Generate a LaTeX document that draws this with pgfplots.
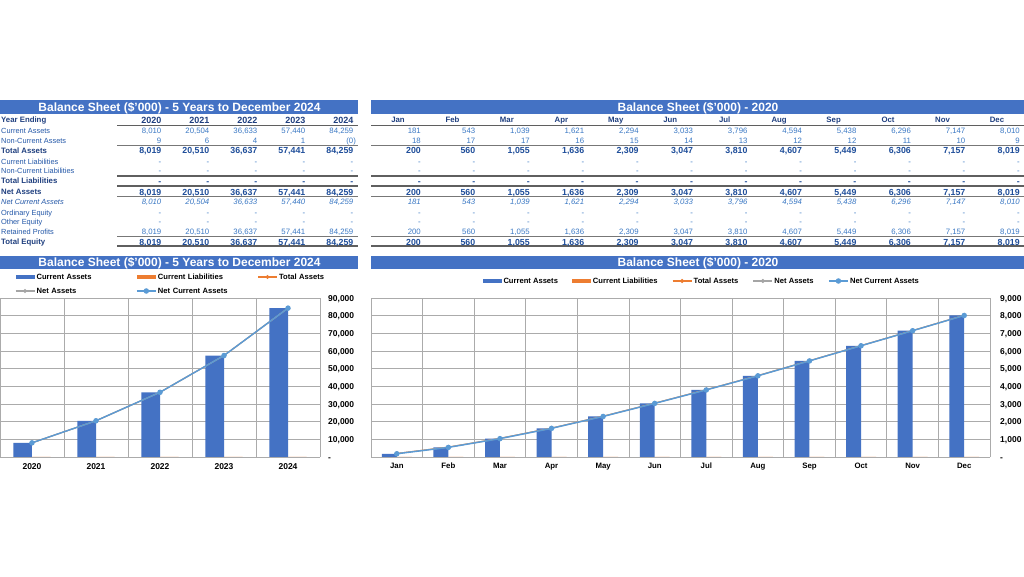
\documentclass[border=0pt]{standalone}
\usepackage{pgfplots}
\pgfplotsset{compat=1.18}
\usepackage{pgfplotstable}
\usepackage{fontspec}
\setmainfont{Liberation Sans}

\definecolor{hdr}{HTML}{4472C4}
\definecolor{barblue}{HTML}{4472C4}
\definecolor{orng}{HTML}{ED7D31}
\definecolor{gry}{HTML}{A5A5A5}
\definecolor{lblue}{HTML}{5B9BD5}
\definecolor{labc}{HTML}{2458A8}
\definecolor{boldc}{HTML}{1F3F7F}
\definecolor{valc}{HTML}{3A78C4}
\definecolor{bvalc}{HTML}{1F4E9A}
\definecolor{gridc}{HTML}{ABABAB}
\definecolor{rulec}{HTML}{5F5F5F}

\newcommand\fs[1]{\fontsize{#1}{#1}\selectfont}
\newcommand\LR[3]{\foreach \v [count=\i from 0] in {#3}{\node[#2,anchor=east] at ({161.5+48*\i},#1) {\v};}}
\newcommand\RR[3]{\foreach \v [count=\i from 0] in {#3}{\node[#2,anchor=east] at ({421+54.45*\i},#1) {\v};}}

\pgfplotsset{
  linelegend/.style={legend image code/.code={\draw[mark repeat=2,mark phase=2,##1] plot coordinates {(0pt,0pt) (9.5pt,0pt) (19pt,0pt)};}},
  barlegend/.style={legend image code/.code={\fill[#1] (0pt,-2pt) rectangle (19pt,2pt);}},
  dash/.style={
    scale only axis, height=159pt, ymin=0,
    axis line style={draw=none}, major tick length=0pt, minor tick length=0pt,
    xminorgrids=true, ymajorgrids=true,
    minor grid style={gridc, line width=0.8pt}, major grid style={gridc, line width=0.8pt},
    yticklabel pos=right, scaled y ticks=false,
    yticklabel style={font=\bfseries\fs{8.5}, text height=6.1pt, text depth=0pt, inner sep=0pt, anchor=west},
    xticklabel style={text depth=0pt, inner sep=0pt, anchor=north, yshift=-6pt},
  }
}

\pgfplotstableread{
x ca cl ta na nca
0 8010 0 8019 8019 8010
1 20504 0 20510 20510 20504
2 36633 0 36637 36637 36633
3 57440 0 57441 57441 57440
4 84259 0 84259 84259 84259
}\yrdata

\pgfplotstableread{
x ca cl ta na nca
0 181 0 200 200 181
1 543 0 560 560 543
2 1039 0 1055 1055 1039
3 1621 0 1636 1636 1621
4 2294 0 2309 2309 2294
5 3033 0 3047 3047 3033
6 3796 0 3810 3810 3796
7 4594 0 4607 4607 4594
8 5438 0 5449 5449 5438
9 6296 0 6306 6306 6296
10 7147 0 7157 7157 7147
11 8010 0 8019 8019 8010
}\modata

\begin{document}
\begin{tikzpicture}
\begin{scope}[x=1pt,y=-1pt,yshift=577pt,
  title/.style={font=\bfseries\fs{12}, text=white, text height=8.6pt, text depth=0pt, inner sep=0pt},
  lab/.style={font=\fs{7.4}, text=labc, text height=5.3pt, text depth=0pt, inner sep=0pt, anchor=west},
  blab/.style={font=\bfseries\fs{7.8}, text=boldc, text height=5.6pt, text depth=0pt, inner sep=0pt, anchor=west},
  ilab/.style={font=\itshape\fs{7.4}, text=labc, text height=5.3pt, text depth=0pt, inner sep=0pt, anchor=west},
  val/.style={font=\fs{7.8}, text=valc, text height=5.6pt, text depth=0pt, inner sep=0pt},
  bval/.style={font=\bfseries\fs{8.8}, text=bvalc, text height=6.3pt, text depth=0pt, inner sep=0pt},
  ival/.style={font=\itshape\fs{7.8}, text=valc, text height=5.6pt, text depth=0pt, inner sep=0pt},
  hyr/.style={font=\bfseries\fs{9}, text=boldc, text height=6.4pt, text depth=0pt, inner sep=0pt},
  hmo/.style={font=\bfseries\fs{7.8}, text=boldc, text height=5.6pt, text depth=0pt, inner sep=0pt, anchor=center},
  thick rule/.style={rulec, line width=1.8pt},
  thin rule/.style={rulec!85, line width=0.9pt}]
 \fill[white] (0,0) rectangle (1024,577);
 \fill[hdr] (0,100) rectangle (358,114);
 \fill[hdr] (371,100) rectangle (1024,114);
 \fill[hdr] (0,256) rectangle (358,269);
 \fill[hdr] (371,256) rectangle (1024,269);
 \node[title] at (179.5,107) {Balance Sheet (\$\char"27 000) - 5 Years to December 2024};
 \node[title] at (698,107) {Balance Sheet (\$\char"27 000) - 2020};
 \node[title] at (179.5,262.5) {Balance Sheet (\$\char"27 000) - 5 Years to December 2024};
 \node[title] at (698,262.5) {Balance Sheet (\$\char"27 000) - 2020};
 % rules
 \foreach \yy in {125.5,175.7,185.7,246.3} {\draw[thick rule] (117,\yy) -- (358,\yy); \draw[thick rule] (371,\yy) -- (1024,\yy);}
 \foreach \yy in {145.7,196.7,236.3} {\draw[thin rule] (117,\yy) -- (358,\yy); \draw[thin rule] (371,\yy) -- (1024,\yy);}
 % header row
 \node[blab] at (1,120) {Year Ending};
 \LR{120}{hyr}{2020,2021,2022,2023,2024}
 \foreach \m [count=\i from 0] in {Jan,Feb,Mar,Apr,May,Jun,Jul,Aug,Sep,Oct,Nov,Dec} {\node[hmo] at ({398+54.45*\i},120) {\m};}
 % Current Assets
 \node[lab] at (1,131) {Current Assets};
 \LR{131}{val}{{8,010},{20,504},{36,633},{57,440},{84,259}}
 \RR{131}{val}{181,543,{1,039},{1,621},{2,294},{3,033},{3,796},{4,594},{5,438},{6,296},{7,147},{8,010}}
 % Non-Current Assets
 \node[lab] at (1,141) {Non-Current Assets};
 \LR{141}{val}{9,6,4,1,{(0\rlap{)}}}
 \RR{141}{val}{18,17,17,16,15,14,13,12,12,11,10,9}
 % Total Assets
 \node[blab] at (1,150.5) {Total Assets};
 \LR{150.5}{bval}{{8,019},{20,510},{36,637},{57,441},{84,259}}
 \RR{150.5}{bval}{200,560,{1,055},{1,636},{2,309},{3,047},{3,810},{4,607},{5,449},{6,306},{7,157},{8,019}}
 % Current Liabilities
 \node[lab] at (1,162) {Current Liabilities};
 \LR{162}{val}{-,-,-,-,-}
 \RR{162}{val}{-,-,-,-,-,-,-,-,-,-,-,-}
 \node[lab] at (1,171) {Non-Current Liabilities};
 \LR{171}{val}{-,-,-,-,-}
 \RR{171}{val}{-,-,-,-,-,-,-,-,-,-,-,-}
 \node[blab] at (1,181) {Total Liabilities};
 \LR{181}{bval}{-,-,-,-,-}
 \RR{181}{bval}{-,-,-,-,-,-,-,-,-,-,-,-}
 % Net Assets
 \node[blab] at (1,192) {Net Assets};
 \LR{192}{bval}{{8,019},{20,510},{36,637},{57,441},{84,259}}
 \RR{192}{bval}{200,560,{1,055},{1,636},{2,309},{3,047},{3,810},{4,607},{5,449},{6,306},{7,157},{8,019}}
 % Net Current Assets
 \node[ilab] at (1,202) {Net Current Assets};
 \LR{202}{ival}{{8,010},{20,504},{36,633},{57,440},{84,259}}
 \RR{202}{ival}{181,543,{1,039},{1,621},{2,294},{3,033},{3,796},{4,594},{5,438},{6,296},{7,147},{8,010}}
 % Equity
 \node[lab] at (1,213) {Ordinary Equity};
 \LR{213}{val}{-,-,-,-,-}
 \RR{213}{val}{-,-,-,-,-,-,-,-,-,-,-,-}
 \node[lab] at (1,222) {Other Equity};
 \LR{222}{val}{-,-,-,-,-}
 \RR{222}{val}{-,-,-,-,-,-,-,-,-,-,-,-}
 \node[lab] at (1,232) {Retained Profits};
 \LR{232}{val}{{8,019},{20,510},{36,637},{57,441},{84,259}}
 \RR{232}{val}{200,560,{1,055},{1,636},{2,309},{3,047},{3,810},{4,607},{5,449},{6,306},{7,157},{8,019}}
 \node[blab] at (1,242) {Total Equity};
 \LR{242}{bval}{{8,019},{20,510},{36,637},{57,441},{84,259}}
 \RR{242}{bval}{200,560,{1,055},{1,636},{2,309},{3,047},{3,810},{4,607},{5,449},{6,306},{7,157},{8,019}}
\end{scope}

% ---------- left chart ----------
\begin{axis}[dash,
  at={(0pt,120pt)}, anchor=south west, width=320pt,
  xmin=-0.5, xmax=4.5, ymax=90000,
  xtick={0,1,2,3,4}, xticklabels={2020,2021,2022,2023,2024},
  xticklabel style={font=\bfseries\fs{8.5}, text height=6.1pt},
  minor xtick={-0.5,0.5,1.5,2.5,3.5,4.5},
  ytick={0,10000,20000,30000,40000,50000,60000,70000,80000,90000},
  yticklabels={-,{10,000},{20,000},{30,000},{40,000},{50,000},{60,000},{70,000},{80,000},{90,000}},
  yticklabel style={xshift=8pt},
  legend columns=3, legend cell align=left,
  legend style={at={(axis description cs:0,1)}, anchor=south west, xshift=15pt, yshift=4.25pt,
    draw=none, fill=none, inner sep=0pt, outer sep=0pt, row sep=8.5pt, column sep=0pt,
    nodes={font=\bfseries\fs{7.6}, text height=5.5pt, text depth=0pt, inner xsep=1.5pt, inner ysep=0pt, text width=98pt, align=left}},
]
\addplot[ybar, bar width=0.29, bar shift=-0.145, fill=barblue, draw=none, barlegend=barblue] table[x=x,y=ca]{\yrdata};
\addlegendentry{Current Assets}
\addplot[ybar, bar width=0.29, bar shift=0.145, fill=orng, draw=none, barlegend=orng] table[x=x,y=cl]{\yrdata};
\addlegendentry{Current Liabilities}
\addplot[orng, line width=1.1pt, mark=*, mark size=1.4pt, mark options={fill=orng}, linelegend] table[x=x,y=ta]{\yrdata};
\addlegendentry{Total Assets}
\addplot[gry, line width=1.1pt, mark=*, mark size=1.4pt, mark options={fill=gry}, linelegend] table[x=x,y=na]{\yrdata};
\addlegendentry{Net Assets}
\addplot[lblue, line width=1.4pt, mark=*, mark size=2pt, mark options={fill=lblue}, linelegend] table[x=x,y=nca]{\yrdata};
\addlegendentry{Net Current Assets}
\end{axis}

% ---------- right chart ----------
\begin{axis}[dash,
  at={(371pt,120pt)}, anchor=south west, width=619pt,
  xmin=-0.5, xmax=11.5, ymax=9000,
  xtick={0,1,2,3,4,5,6,7,8,9,10,11}, xticklabels={Jan,Feb,Mar,Apr,May,Jun,Jul,Aug,Sep,Oct,Nov,Dec},
  xticklabel style={font=\bfseries\fs{7.8}, text height=5.6pt},
  minor xtick={-0.5,0.5,1.5,2.5,3.5,4.5,5.5,6.5,7.5,8.5,9.5,10.5,11.5},
  ytick={0,1000,2000,3000,4000,5000,6000,7000,8000,9000},
  yticklabels={-,{1,000},{2,000},{3,000},{4,000},{5,000},{6,000},{7,000},{8,000},{9,000}},
  yticklabel style={xshift=10pt},
  legend columns=5, legend cell align=left,
  legend style={at={(axis description cs:0,1)}, anchor=south west, xshift=112pt, yshift=14.25pt,
    draw=none, fill=none, inner sep=0pt, outer sep=0pt, column sep=0pt,
    nodes={font=\bfseries\fs{7.6}, text height=5.5pt, text depth=0pt, inner xsep=1.5pt, inner ysep=0pt},
    /tikz/every even column/.append style={column sep=13pt}},
]
\addplot[ybar, bar width=0.29, bar shift=-0.145, fill=barblue, draw=none, barlegend=barblue] table[x=x,y=ca]{\modata};
\addlegendentry{Current Assets}
\addplot[ybar, bar width=0.29, bar shift=0.145, fill=orng, draw=none, barlegend=orng] table[x=x,y=cl]{\modata};
\addlegendentry{Current Liabilities}
\addplot[orng, line width=1.1pt, mark=*, mark size=1.4pt, mark options={fill=orng}, linelegend] table[x=x,y=ta]{\modata};
\addlegendentry{Total Assets}
\addplot[gry, line width=1.1pt, mark=*, mark size=1.4pt, mark options={fill=gry}, linelegend] table[x=x,y=na]{\modata};
\addlegendentry{Net Assets}
\addplot[lblue, line width=1.4pt, mark=*, mark size=2pt, mark options={fill=lblue}, linelegend] table[x=x,y=nca]{\modata};
\addlegendentry{Net Current Assets}
\end{axis}

\pgfresetboundingbox
\path[use as bounding box] (0,0) rectangle (1024pt,577pt);
\end{tikzpicture}
\end{document}
